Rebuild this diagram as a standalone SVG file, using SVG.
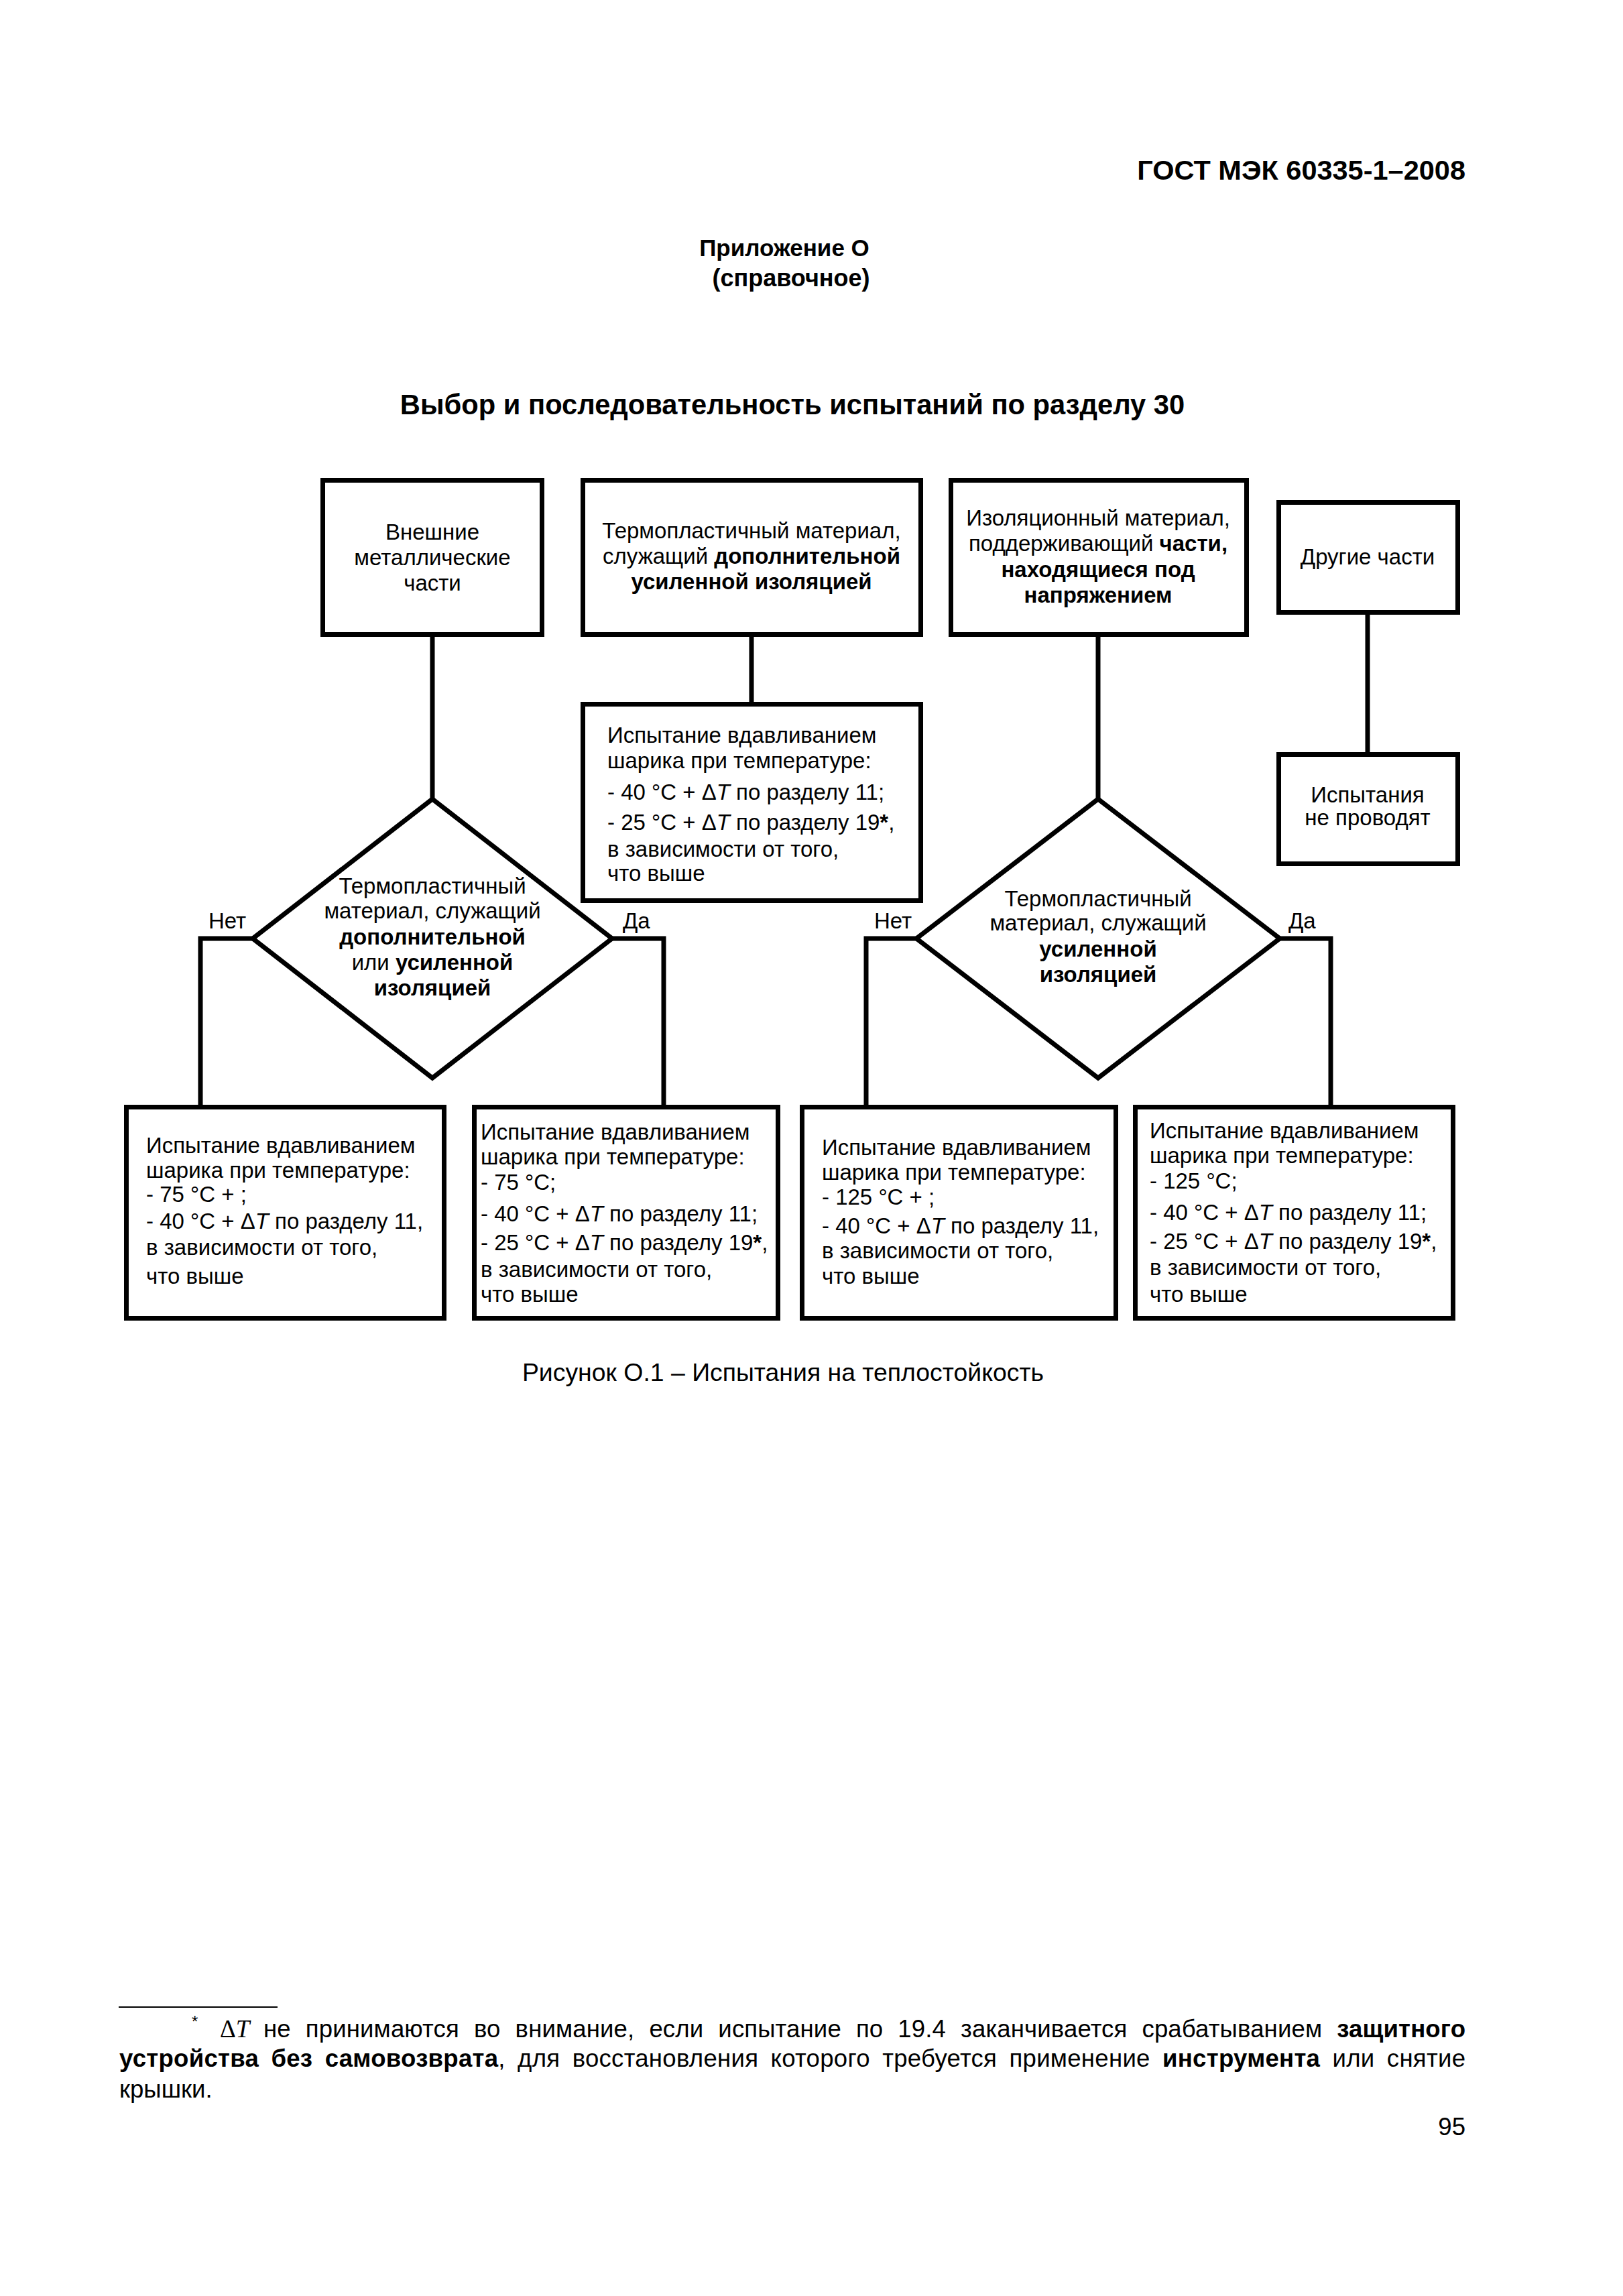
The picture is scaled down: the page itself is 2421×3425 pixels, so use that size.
<svg xmlns="http://www.w3.org/2000/svg" width="2421" height="3425" viewBox="0 0 2421 3425">
<style>
text { font-family: "Liberation Sans", Arial, sans-serif; fill: #000; }
.box { fill: none; stroke: #000; stroke-width: 7; }
.conn { fill: none; stroke: #000; stroke-width: 7; stroke-linejoin: miter; }
.t { font-size: 33px; }
.c { text-anchor: middle; }
.e { text-anchor: end; }
.b { font-weight: bold; }
.i { font-style: italic; }
.fn { font-size: 36.6px; }
.serif { font-family: "Liberation Serif", "Times New Roman", serif; }
</style>
<rect x="0" y="0" width="2421" height="3425" fill="#fff"/>

<g id="header">
<text x="2186" y="268" class="e b" font-size="41.5">ГОСТ МЭК 60335-1–2008</text>
<text x="1170" y="382" class="c b" font-size="35">Приложение О</text>
<text x="1180" y="427" class="c b" font-size="36">(справочное)</text>
<text x="1182" y="618" class="c b" font-size="41.7">Выбор и последовательность испытаний по разделу 30</text>
</g>

<g id="connectors">
<line class="conn" x1="645" y1="950" x2="645" y2="1192"/>
<line class="conn" x1="1121" y1="950" x2="1121" y2="1048"/>
<line class="conn" x1="1638" y1="950" x2="1638" y2="1192"/>
<line class="conn" x1="2040" y1="917" x2="2040" y2="1123"/>
<polyline class="conn" points="377,1400 299,1400 299,1649"/>
<polyline class="conn" points="913,1400 990,1400 990,1649"/>
<polyline class="conn" points="1367,1400 1292,1400 1292,1649"/>
<polyline class="conn" points="1909,1400 1985,1400 1985,1649"/>
<text x="311" y="1385" class="t">Нет</text>
<text x="929" y="1385" class="t">Да</text>
<text x="1304" y="1385" class="t">Нет</text>
<text x="1922" y="1385" class="t">Да</text>
</g>

<g id="n-metal">
<rect class="box" x="481.5" y="716.5" width="327" height="230"/>
<text x="645" y="805" class="t c">Внешние</text>
<text x="645" y="843" class="t c">металлические</text>
<text x="645" y="881" class="t c">части</text>
</g>

<g id="n-thermo">
<rect class="box" x="869.5" y="716.5" width="504" height="230"/>
<text x="1121" y="803" class="t c">Термопластичный материал,</text>
<text x="1121" y="841" class="t c">служащий <tspan class="b">дополнительной</tspan></text>
<text x="1121" y="879" class="t c b">усиленной изоляцией</text>
</g>

<g id="n-insul">
<rect class="box" x="1418.5" y="716.5" width="441" height="230"/>
<text x="1638" y="784" class="t c">Изоляционный материал,</text>
<text x="1638" y="822" class="t c">поддерживающий <tspan class="b">части,</tspan></text>
<text x="1638" y="861" class="t c b">находящиеся под</text>
<text x="1638" y="899" class="t c b">напряжением</text>
</g>

<g id="n-other">
<rect class="box" x="1907.5" y="749.5" width="267" height="164"/>
<text x="2040" y="842" class="t c">Другие части</text>
</g>

<g id="n-test-thermo">
<rect class="box" x="869.5" y="1050.5" width="504" height="293"/>
<text x="906" y="1108" class="t">Испытание вдавливанием</text>
<text x="906" y="1146" class="t">шарика при температуре:</text>
<text x="906" y="1193" class="t">- 40 °C + Δ<tspan class="i">T</tspan> по разделу 11;</text>
<text x="906" y="1238" class="t">- 25 °C + Δ<tspan class="i">T</tspan> по разделу 19<tspan class="b">*</tspan>,</text>
<text x="906" y="1278" class="t">в зависимости от того,</text>
<text x="906" y="1314" class="t">что выше</text>
</g>

<g id="n-none">
<rect class="box" x="1907.5" y="1125.5" width="267" height="163"/>
<text x="2040" y="1197" class="t c">Испытания</text>
<text x="2040" y="1231" class="t c">не проводят</text>
</g>

<g id="n-dec1">
<polygon class="box" points="645,1192 913,1400 645,1608 377,1400"/>
<text x="645" y="1333" class="t c">Термопластичный</text>
<text x="645" y="1370" class="t c">материал, служащий</text>
<text x="645" y="1409" class="t c b">дополнительной</text>
<text x="645" y="1447" class="t c">или <tspan class="b">усиленной</tspan></text>
<text x="645" y="1485" class="t c b">изоляцией</text>
</g>

<g id="n-dec2">
<polygon class="box" points="1638,1192 1909,1400 1638,1608 1367,1400"/>
<text x="1638" y="1352" class="t c">Термопластичный</text>
<text x="1638" y="1388" class="t c">материал, служащий</text>
<text x="1638" y="1427" class="t c b">усиленной</text>
<text x="1638" y="1465" class="t c b">изоляцией</text>
</g>

<g id="n-b1">
<rect class="box" x="188.5" y="1651.5" width="474" height="315"/>
<text x="218" y="1720" class="t">Испытание вдавливанием</text>
<text x="218" y="1757" class="t">шарика при температуре:</text>
<text x="218" y="1793" class="t">- 75 °C + ;</text>
<text x="218" y="1833" class="t">- 40 °C + Δ<tspan class="i">T</tspan> по разделу 11,</text>
<text x="218" y="1872" class="t">в зависимости от того,</text>
<text x="218" y="1915" class="t">что выше</text>
</g>

<g id="n-b2">
<rect class="box" x="707.5" y="1651.5" width="453" height="315"/>
<text x="717" y="1700" class="t">Испытание вдавливанием</text>
<text x="717" y="1737" class="t">шарика при температуре:</text>
<text x="717" y="1775" class="t">- 75 °C;</text>
<text x="717" y="1822" class="t">- 40 °C + Δ<tspan class="i">T</tspan> по разделу 11;</text>
<text x="717" y="1865" class="t">- 25 °C + Δ<tspan class="i">T</tspan> по разделу 19<tspan class="b">*</tspan>,</text>
<text x="717" y="1905" class="t">в зависимости от того,</text>
<text x="717" y="1942" class="t">что выше</text>
</g>

<g id="n-b3">
<rect class="box" x="1196.5" y="1651.5" width="468" height="315"/>
<text x="1226" y="1723" class="t">Испытание вдавливанием</text>
<text x="1226" y="1760" class="t">шарика при температуре:</text>
<text x="1226" y="1797" class="t">- 125 °C + ;</text>
<text x="1226" y="1840" class="t">- 40 °C + Δ<tspan class="i">T</tspan> по разделу 11,</text>
<text x="1226" y="1877" class="t">в зависимости от того,</text>
<text x="1226" y="1915" class="t">что выше</text>
</g>

<g id="n-b4">
<rect class="box" x="1693.5" y="1651.5" width="474" height="315"/>
<text x="1715" y="1698" class="t">Испытание вдавливанием</text>
<text x="1715" y="1735" class="t">шарика при температуре:</text>
<text x="1715" y="1773" class="t">- 125 °C;</text>
<text x="1715" y="1820" class="t">- 40 °C + Δ<tspan class="i">T</tspan> по разделу 11;</text>
<text x="1715" y="1863" class="t">- 25 °C + Δ<tspan class="i">T</tspan> по разделу 19<tspan class="b">*</tspan>,</text>
<text x="1715" y="1902" class="t">в зависимости от того,</text>
<text x="1715" y="1942" class="t">что выше</text>
</g>

<g id="caption">
<text x="1168" y="2060" class="c" font-size="37.4">Рисунок О.1 – Испытания на теплостойкость</text>
</g>

<g id="footnote">
<line x1="177" y1="2994" x2="414" y2="2994" stroke="#000" stroke-width="2"/>
<text x="286" y="3024" font-size="24">*</text>
<text x="328" y="3039" class="serif" font-size="37">Δ<tspan class="i">T</tspan></text>
<text x="393" y="3039" class="fn" word-spacing="11.8" textLength="1793" lengthAdjust="spacing">не принимаются во внимание, если испытание по 19.4 заканчивается срабатыванием <tspan class="b">защитного</tspan></text>
<text x="178" y="3083" class="fn" word-spacing="7.9" textLength="2008" lengthAdjust="spacing"><tspan class="b">устройства без самовозврата</tspan>, для восстановления которого требуется применение <tspan class="b">инструмента</tspan> или снятие</text>
<text x="178" y="3129" class="fn">крышки.</text>
<text x="2186" y="3185" class="e" font-size="36.6">95</text>
</g>
</svg>
